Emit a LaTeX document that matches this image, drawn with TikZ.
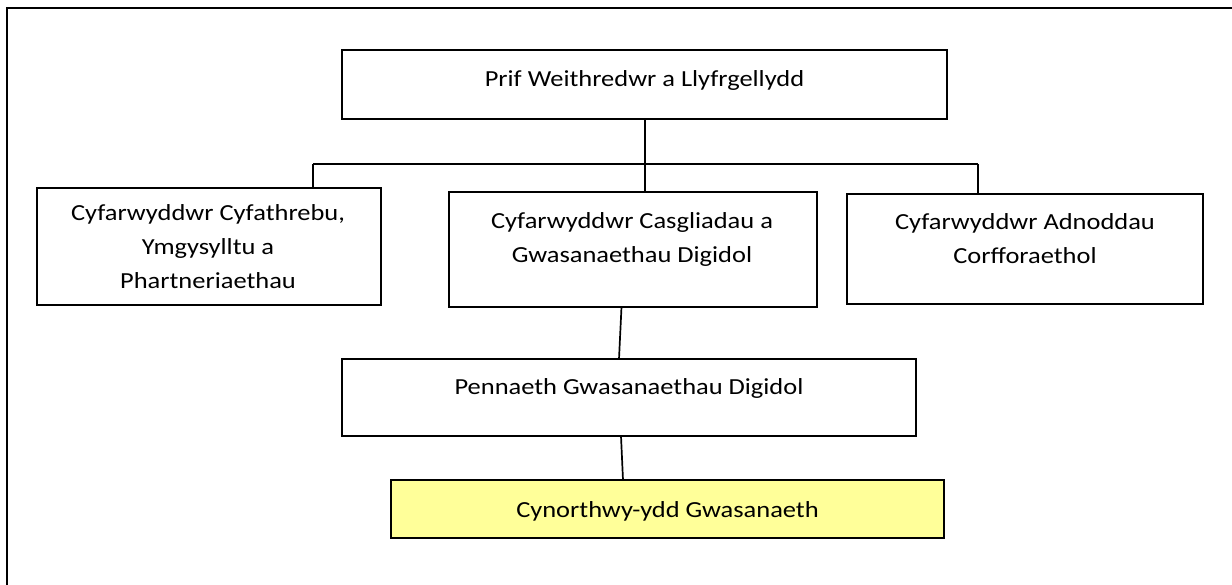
\documentclass[tikz,border=0pt]{standalone}
\usepackage{fontspec}
\setmainfont{Carlito}
\usepackage{graphicx}
\newcommand\sx[1]{\scalebox{1.15}[1]{#1}}
\definecolor{paleyellow}{HTML}{FFFF99}
\begin{document}
\begin{tikzpicture}[x=1pt,y=-1pt,
  box/.style={draw=black, line width=2.2pt, fill=white, anchor=north west, inner sep=0pt, outer sep=0pt},
  lbl/.style={font=\fontsize{23}{34}\selectfont, align=center, inner sep=0pt, anchor=base},
  link/.style={draw=black, line width=1.7pt}]
\useasboundingbox (0,0) rectangle (1232,585);
\draw[line width=2.6pt] (7,590) -- (7,8) -- (1240,8);

% boxes
\node[box, minimum width=605pt, minimum height=69pt] (top) at (342,50) {};
\node[box, minimum width=344pt, minimum height=117pt] (left) at (37,188) {};
\node[box, minimum width=368pt, minimum height=115pt] (mid) at (449,192) {};
\node[box, minimum width=356pt, minimum height=110pt] (right) at (847,194) {};
\node[box, minimum width=574pt, minimum height=77pt] (penn) at (342,359) {};
\node[box, fill=paleyellow, minimum width=553pt, minimum height=58pt] (yel) at (391,480) {};

% labels (base anchor = baseline of the last line)
\node[lbl] (ttop) at (644.5,87) {\sx{Prif Weithredwr a Llyfrgellydd}};
\node[lbl] (tleft) at (208,289) {\sx{Cyfarwyddwr Cyfathrebu,}\\\sx{Ymgysylltu a}\\\sx{Phartneriaethau}};
\node[lbl] (tmid) at (632,263) {\sx{Cyfarwyddwr Casgliadau a}\\\sx{Gwasanaethau Digidol}};
\node[lbl] (tright) at (1025,264) {\sx{Cyfarwyddwr Adnoddau}\\\sx{Corfforaethol}};
\node[lbl] (tpenn) at (629,394) {\sx{Pennaeth Gwasanaethau Digidol}};
\node[lbl] (tyel) at (667.5,517) {\sx{Cynorthwy-ydd Gwasanaeth}};

% connectors
\coordinate (bm) at (645,164);
\coordinate (bl) at (313,164);
\coordinate (br) at (978,164);
\draw[link] (top.south -| bm) -- (bm);
\draw[link] (bl) -- (br);
\draw[link] (bl) -- (bl |- left.north);
\draw[link] (bm) -- (bm |- mid.north);
\draw[link] (br) -- (br |- right.north);
\draw[link] ([xshift=-11.5pt]mid.south) -- ([xshift=-10pt]penn.north);
\draw[link] ([xshift=-8pt]penn.south) -- ([xshift=-44.5pt]yel.north);
\end{tikzpicture}
\end{document}
